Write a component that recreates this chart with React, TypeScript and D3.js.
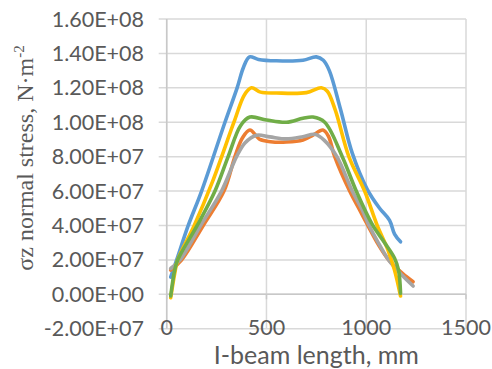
import * as d3 from "d3";

const width = 492;
const height = 369;

// plot area (pixels)
const left = 166.7;
const right = 466;
const top = 19;
const bottom = 328.7;

const xTicks = [0, 500, 1000, 1500];
const yTicks = [-2e7, 0, 2e7, 4e7, 6e7, 8e7, 1e8, 1.2e8, 1.4e8, 1.6e8];

// [I-beam length mm, sigma z N/m2]
const blueSeries: [number, number][] = [
  [20, 1.0e7], [50, 2.0e7], [108, 4.0e7], [175, 6.0e7],
  [292, 1.0e8], [353, 1.2e8], [385, 1.32e8], [415, 1.38e8], [460, 1.365e8],
  [550, 1.357e8], [683, 1.36e8], [750, 1.38e8], [785, 1.36e8], [815, 1.3e8],
  [870, 1.08e8], [930, 8.2e7], [1005, 6.1e7], [1067, 5.0e7], [1117, 4.3e7],
  [1142, 3.5e7], [1172, 3.05e7],
];

const orangeSeries: [number, number][] = [
  [20, 1.4e7], [75, 2.0e7], [183, 4.0e7], [287, 6.0e7], [342, 8.0e7],
  [380, 9.1e7], [417, 9.55e7], [467, 9.0e7], [520, 8.87e7], [600, 8.85e7],
  [683, 8.97e7], [733, 9.25e7], [783, 9.55e7], [810, 9.2e7], [842, 8.0e7],
  [917, 6.0e7], [967, 4.9e7], [1008, 4.0e7], [1060, 2.9e7], [1112, 2.0e7],
  [1183, 1.2e7], [1235, 7.3e6],
];

const graySeries: [number, number][] = [
  [20, 1.5e7], [67, 2.0e7], [170, 4.0e7], [275, 6.0e7], [350, 8.0e7],
  [392, 8.8e7], [450, 9.25e7], [517, 9.15e7], [600, 9.03e7], [683, 9.16e7],
  [742, 9.3e7], [790, 8.95e7], [853, 8.0e7], [930, 6.0e7], [980, 4.9e7],
  [1010, 4.1e7], [1060, 3.0e7], [1112, 2.0e7], [1180, 1.1e7], [1235, 4.8e6],
];

const yellowSeries: [number, number][] = [
  [20, -2e6], [40, 1.2e7], [55, 2.0e7], [138, 4.0e7], [228, 6.5e7],
  [337, 1.0e8], [390, 1.16e8], [425, 1.2e8], [470, 1.175e8],
  [550, 1.17e8], [700, 1.172e8], [775, 1.2e8], [805, 1.18e8], [845, 1.07e8],
  [913, 8.0e7], [992, 6.0e7], [1055, 4.0e7], [1108, 2.6e7], [1142, 1.4e7],
  [1172, -1e6],
];

const greenSeries: [number, number][] = [
  [20, -1e6], [40, 1.4e7], [55, 2.0e7], [153, 4.0e7], [242, 6.0e7],
  [308, 8.0e7], [370, 9.8e7], [417, 1.03e8], [500, 1.013e8], [600, 1.0e8],
  [683, 1.023e8], [733, 1.03e8], [792, 1.0e8], [880, 8.0e7], [950, 6.0e7],
  [1033, 4.0e7], [1092, 3.0e7], [1142, 2.1e7], [1162, 1.4e7], [1172, 5e5],
];

const series = [
  { key: "blue", color: "#5B9BD5", data: blueSeries },
  { key: "orange", color: "#ED7D31", data: orangeSeries },
  { key: "gray", color: "#A5A5A5", data: graySeries },
  { key: "yellow", color: "#FFC000", data: yellowSeries },
  { key: "green", color: "#70AD47", data: greenSeries },
];

// Excel style 1.60E+08
const sci = (v: number) => {
  if (v === 0) return "0.00E+00";
  const e = Math.floor(Math.log10(Math.abs(v)));
  const m = v / 10 ** e;
  return `${m.toFixed(2)}E${e >= 0 ? "+" : "-"}${String(Math.abs(e)).padStart(2, "0")}`;
};

export default function App() {
  const x = d3.scaleLinear().domain([0, 1500]).range([left, right]);
  const y = d3.scaleLinear().domain([-2e7, 1.6e8]).range([bottom, top]);

  const line = d3
    .line<[number, number]>()
    .x((d) => x(d[0]))
    .y((d) => y(d[1]))
    .curve(d3.curveCatmullRom.alpha(0.5));

  const grid = "#D9D9D9";
  const textColor = "#595959";
  const sans = "Lato, 'Open Sans', sans-serif";

  return (
    <svg
      width={width}
      height={height}
      style={{ position: "absolute", left: 0, top: 0, background: "#fff" }}
    >
      {/* gridlines */}
      {yTicks.map((t) => (
        <line key={"gy" + t} x1={left - 8} x2={right} y1={y(t)} y2={y(t)} stroke={grid} strokeWidth={1.5} />
      ))}
      {xTicks.map((t) => (
        <line key={"gx" + t} x1={x(t)} x2={x(t)} y1={top} y2={bottom} stroke={grid} strokeWidth={1.5} />
      ))}

      {/* axes */}
      <line x1={left} x2={left} y1={top} y2={bottom} stroke="#C8C8C8" strokeWidth={1.5} />
      <line x1={left} x2={right} y1={y(0)} y2={y(0)} stroke="#C8C8C8" strokeWidth={1.5} />
      {xTicks.map((t) => (
        <line key={"tx" + t} x1={x(t)} x2={x(t)} y1={y(0)} y2={y(0) + 5} stroke="#C8C8C8" strokeWidth={1.5} />
      ))}

      {/* series */}
      {series.map((s) => (
        <path
          key={s.key}
          d={line(s.data) ?? ""}
          fill="none"
          stroke={s.color}
          strokeWidth={3.6}
          strokeLinejoin="round"
          strokeLinecap="round"
        />
      ))}

      {/* y tick labels */}
      {yTicks.map((t) => (
        <text
          key={"ly" + t}
          x={144}
          y={y(t)}
          dy="0.35em"
          textAnchor="end"
          fontFamily={sans}
          fontSize={21.5}
          fill={textColor}
        >
          {sci(t)}
        </text>
      ))}

      {/* x tick labels */}
      {xTicks.map((t) => (
        <text
          key={"lx" + t}
          x={x(t)}
          y={bottom}
          dy="0.3em"
          textAnchor="middle"
          fontFamily={sans}
          fontSize={21.5}
          fill={textColor}
        >
          {t}
        </text>
      ))}

      {/* axis titles */}
      <text
        x={(left + right) / 2}
        y={364}
        textAnchor="middle"
        fontFamily={sans}
        fontSize={25}
        fill={textColor}
      >
        I-beam length, mm
      </text>
      <text
        transform="translate(33,158) rotate(-90)"
        textAnchor="middle"
        fontFamily="'Liberation Serif', serif"
        fontSize={24}
        fill={textColor}
      >
        σz normal stress, N·m
        <tspan fontSize={15} dy={-9}>
          -2
        </tspan>
      </text>
    </svg>
  );
}
